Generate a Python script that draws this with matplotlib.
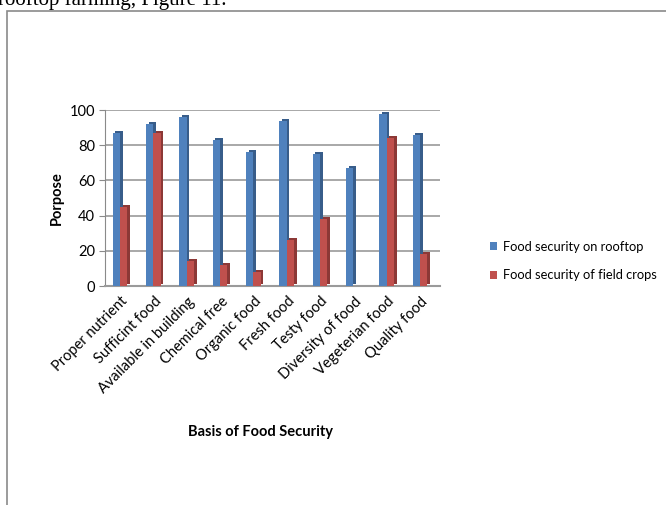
import matplotlib
matplotlib.use("Agg")
import matplotlib.pyplot as plt
import numpy as np
from matplotlib.patches import Rectangle

categories = ["Proper nutrient", "Sufficint food", "Available in building", "Chemical free",
              "Organic food", "Fresh food", "Testy food", "Diversity of food",
              "Vegeterian food", "Quality food"]
rooftop = [87, 92, 96, 83, 76, 94, 75, 67, 98, 86]
field = [45, 87, 14, 12, 8, 26, 38, 0, 84, 18]
series_names = ["Food security on rooftop", "Food security of field crops"]
yticks = [0, 20, 40, 60, 80, 100]

plt.rcParams['font.family'] = ['Lato', 'DejaVu Sans']

W, H = 666, 505
fig = plt.figure(figsize=(W / 100, H / 100), dpi=100)

# outer frame & cut-off caption line
fig.patches.append(Rectangle((7 / W, -0.05), 1.2, 1 - 11 / H + 0.05, transform=fig.transFigure,
                             fill=False, edgecolor='#8a8a8a', linewidth=1.2))
fig.text(-2 / W, 1 - 5 / H, "rooftop farming, Figure 11.", family='Liberation Serif',
         fontsize=15, va='baseline', ha='left', color='black')

ax = fig.add_axes([105 / W, 1 - 286 / H, 335 / W, 176 / H])
x = np.arange(len(categories))
w = 0.22
dx, dy = 0.075, 1.1

blue, blue_d = '#4F81BD', '#385D8A'
red, red_d = '#C0504D', '#8C3836'

ax.bar(x - w + dx, rooftop, width=w, bottom=dy, align='edge', color=blue_d, zorder=2)
ax.bar(x + dx, field, width=w, bottom=dy, align='edge', color=red_d, zorder=2)
b1 = ax.bar(x - w, rooftop, width=w, align='edge', color=blue, zorder=3, label=series_names[0])
b2 = ax.bar(x, field, width=w, align='edge', color=red, zorder=3, label=series_names[1])

ax.set_xlim(-0.45, 9.6)
ax.set_ylim(0, 100)
ax.set_yticks(yticks)
ax.yaxis.grid(True, color='#9a9a9a', linewidth=1.2, zorder=0)
ax.set_axisbelow(True)
for s in ['top', 'right']:
    ax.spines[s].set_visible(False)
ax.spines['left'].set_color('#8a8a8a')
ax.spines['bottom'].set_color('#9a9a9a')
ax.spines['bottom'].set_linewidth(1.5)
ax.tick_params(axis='y', length=4, color='#8a8a8a', labelsize=10.5, pad=3)
ax.set_xticks(x + 0.02)
ax.set_xticklabels(categories, rotation=45, ha='right', rotation_mode='anchor', fontsize=10.5)
ax.tick_params(axis='x', length=0, pad=6)

ax.set_ylabel("Porpose", fontsize=10.5, fontweight='bold', labelpad=4)
fig.text(260 / W, 1 - 432 / H, "Basis of Food Security", fontsize=10.5, fontweight='bold',
         ha='center', va='center')

fig.legend(handles=[b1, b2], loc='upper left', bbox_to_anchor=(478 / W, 1 - 229 / H),
           frameon=False, fontsize=9.3, handlelength=0.6, handleheight=0.6,
           handletextpad=0.4, labelspacing=1.3)

fig.savefig("out.png", dpi=100)
